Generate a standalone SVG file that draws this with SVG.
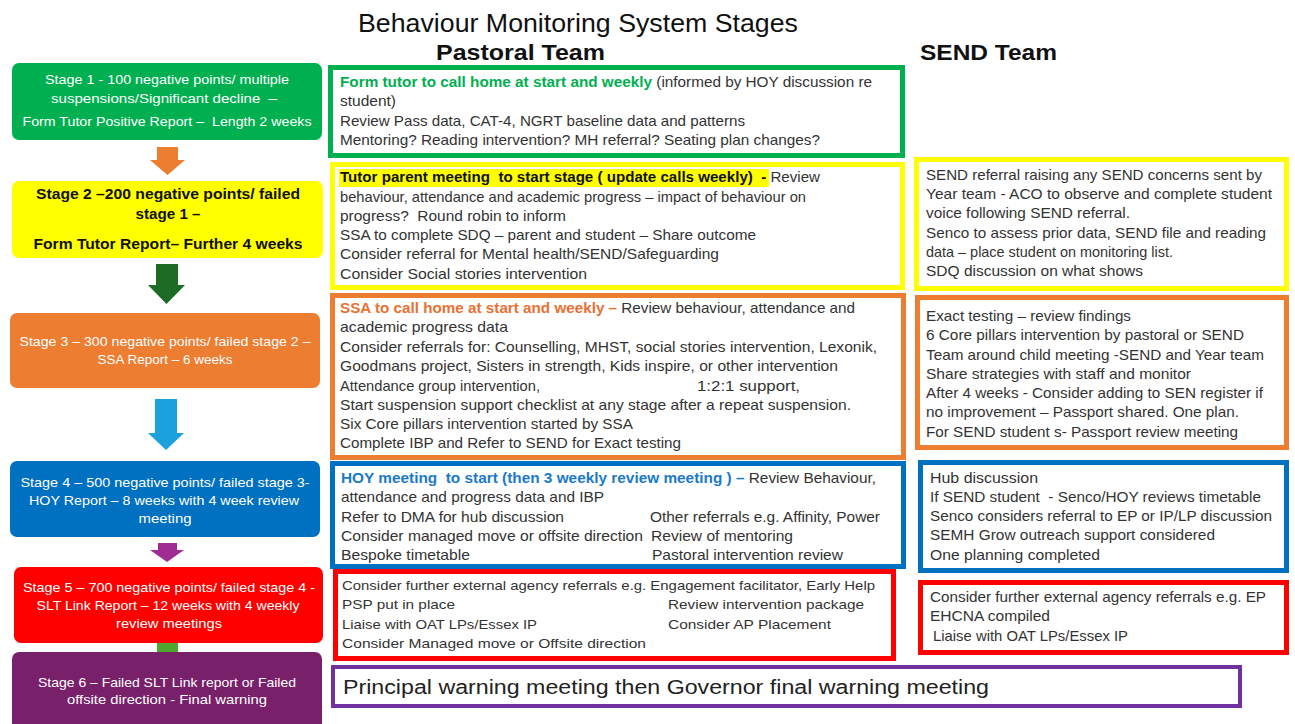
<svg xmlns="http://www.w3.org/2000/svg" width="1295" height="724" viewBox="0 0 1295 724">
<style>
  text { font-family: "Liberation Sans", Arial, sans-serif; white-space: pre; }
  .title { font-size: 25px; fill: #111; }
  .head { font-size: 22px; font-weight: bold; fill: #111; }
  .st { font-size: 13px; fill: #fff; text-anchor: middle; }
  .st2 { font-size: 15px; fill: #111; text-anchor: middle; font-weight: bold; }
  .b { font-size: 14.5px; fill: #333; }
  .s { font-size: 13.5px; fill: #333; }
  .big { font-size: 20px; fill: #222; }
  .bx { fill: #fff; stroke-width: 5; }
  .bold { font-weight: bold; }
</style>

<g id="connectors">
  <polygon fill="#ED7D31" points="157,147 178,147 178,160 185,160 167.5,175 150,160 157,160"/>
  <polygon fill="#1E6B25" points="156,264 178,264 178,285 185,285 166.5,304 148,285 156,285"/>
  <polygon fill="#1BA1DB" points="155,399 177,399 177,433 184,433 166,450 148,433 155,433"/>
  <polygon fill="#A02B93" points="158,543 177,543 177,550 184,550 167,562 150,550 158,550"/>
  <polygon fill="#4EA72E" points="157,643 178,643 178,652 185,652 167.5,665 150,652 157,652"/>
</g>

<g id="title">
  <text class="title" x="358" y="32" textLength="440" lengthAdjust="spacingAndGlyphs">Behaviour Monitoring System Stages</text>
  <text class="head" x="436" y="60" textLength="169" lengthAdjust="spacingAndGlyphs">Pastoral Team</text>
  <text class="head" x="920" y="60" textLength="137" lengthAdjust="spacingAndGlyphs">SEND Team</text>
</g>

<g id="stage1">
  <rect x="12" y="63" width="310" height="77" rx="7" fill="#00B050"/>
  <text class="st" x="167" y="84" textLength="244" lengthAdjust="spacingAndGlyphs">Stage 1 - 100 negative points/ multiple</text>
  <text class="st" x="164" y="103" textLength="226" lengthAdjust="spacingAndGlyphs">suspensions/Significant decline  –</text>
  <text class="st" x="167" y="126" textLength="289" lengthAdjust="spacingAndGlyphs">Form Tutor Positive Report –  Length 2 weeks</text>
</g>

<g id="stage2">
  <rect x="12" y="181" width="311" height="77" rx="7" fill="#FFFF00"/>
  <text class="st2" x="168" y="199" textLength="264" lengthAdjust="spacingAndGlyphs">Stage 2 –200 negative points/ failed</text>
  <text class="st2" x="168" y="219" textLength="65" lengthAdjust="spacingAndGlyphs">stage 1 –</text>
  <text class="st2" x="168" y="249" textLength="269" lengthAdjust="spacingAndGlyphs">Form Tutor Report– Further 4 weeks</text>
</g>

<g id="stage3">
  <rect x="10" y="313" width="310" height="75" rx="7" fill="#ED7D31"/>
  <text class="st" x="165" y="346" textLength="291" lengthAdjust="spacingAndGlyphs">Stage 3 – 300 negative points/ failed stage 2 –</text>
  <text class="st" x="165" y="364" textLength="135" lengthAdjust="spacingAndGlyphs">SSA Report – 6 weeks</text>
</g>

<g id="stage4">
  <rect x="10" y="461" width="310" height="76" rx="7" fill="#0070C0"/>
  <text class="st" x="165" y="487" textLength="289" lengthAdjust="spacingAndGlyphs">Stage 4 – 500 negative points/ failed stage 3-</text>
  <text class="st" x="164" y="505" textLength="270" lengthAdjust="spacingAndGlyphs">HOY Report – 8 weeks with 4 week review</text>
  <text class="st" x="165" y="523" textLength="53" lengthAdjust="spacingAndGlyphs">meeting</text>
</g>

<g id="stage5">
  <rect x="14" y="567" width="309" height="76" rx="7" fill="#FF0000"/>
  <text class="st" x="169" y="592" textLength="292" lengthAdjust="spacingAndGlyphs">Stage 5 – 700 negative points/ failed stage 4 -</text>
  <text class="st" x="168" y="610" textLength="263" lengthAdjust="spacingAndGlyphs">SLT Link Report – 12 weeks with 4 weekly</text>
  <text class="st" x="169" y="628" textLength="106" lengthAdjust="spacingAndGlyphs">review meetings</text>
</g>

<g id="stage6">
  <rect x="12" y="652" width="310" height="80" rx="7" fill="#782069"/>
  <text class="st" x="167" y="687" textLength="258" lengthAdjust="spacingAndGlyphs">Stage 6 – Failed SLT Link report or Failed</text>
  <text class="st" x="167" y="704" textLength="200" lengthAdjust="spacingAndGlyphs">offsite direction - Final warning</text>
</g>

<g id="pastoral1">
  <rect class="bx" x="330.5" y="67.5" width="572" height="88" stroke="#00B050"/>
  <text class="b" x="340" y="87" textLength="532" lengthAdjust="spacingAndGlyphs"><tspan class="bold" fill="#00B050">Form tutor to call home at start and weekly</tspan> (informed by HOY discussion re</text>
  <text class="b" x="340" y="106" textLength="56" lengthAdjust="spacingAndGlyphs">student)</text>
  <text class="b" x="340" y="126" textLength="405" lengthAdjust="spacingAndGlyphs">Review Pass data, CAT-4, NGRT baseline data and patterns</text>
  <text class="b" x="340" y="145" textLength="480" lengthAdjust="spacingAndGlyphs">Mentoring? Reading intervention? MH referral? Seating plan changes?</text>
</g>

<g id="pastoral2">
  <rect class="bx" x="332.5" y="164.5" width="570" height="123" stroke="#FFFF00"/>
  <rect x="339" y="169" width="430" height="18" fill="#FFFF00"/>
  <text class="b" x="340" y="182" textLength="480" lengthAdjust="spacingAndGlyphs"><tspan class="bold" fill="#111">Tutor parent meeting  to start stage ( update calls weekly)  - </tspan>Review</text>
  <text class="b" x="340" y="202" textLength="466" lengthAdjust="spacingAndGlyphs">behaviour, attendance and academic progress – impact of behaviour on</text>
  <text class="b" x="340" y="221" textLength="226" lengthAdjust="spacingAndGlyphs">progress?  Round robin to inform</text>
  <text class="b" x="340" y="240" textLength="416" lengthAdjust="spacingAndGlyphs">SSA to complete SDQ – parent and student – Share outcome</text>
  <text class="b" x="340" y="259" textLength="379" lengthAdjust="spacingAndGlyphs">Consider referral for Mental health/SEND/Safeguarding</text>
  <text class="b" x="340" y="279" textLength="247" lengthAdjust="spacingAndGlyphs">Consider Social stories intervention</text>
</g>

<g id="pastoral3">
  <rect class="bx" x="332.5" y="295.5" width="571" height="162" stroke="#ED7D31"/>
  <text class="b" x="340" y="313" textLength="515" lengthAdjust="spacingAndGlyphs"><tspan class="bold" fill="#E97132">SSA to call home at start and weekly – </tspan>Review behaviour, attendance and</text>
  <text class="b" x="340" y="332" textLength="168" lengthAdjust="spacingAndGlyphs">academic progress data</text>
  <text class="b" x="340" y="352" textLength="537" lengthAdjust="spacingAndGlyphs">Consider referrals for: Counselling, MHST, social stories intervention, Lexonik,</text>
  <text class="b" x="340" y="371" textLength="498" lengthAdjust="spacingAndGlyphs">Goodmans project, Sisters in strength, Kids inspire, or other intervention</text>
  <text class="b" x="340" y="391" textLength="200" lengthAdjust="spacingAndGlyphs">Attendance group intervention,</text>
  <text class="b" x="697" y="391" textLength="103" lengthAdjust="spacingAndGlyphs">1:2:1 support,</text>
  <text class="b" x="340" y="410" textLength="511" lengthAdjust="spacingAndGlyphs">Start suspension support checklist at any stage after a repeat suspension.</text>
  <text class="b" x="340" y="429" textLength="293" lengthAdjust="spacingAndGlyphs">Six Core pillars intervention started by SSA</text>
  <text class="b" x="340" y="448" textLength="341" lengthAdjust="spacingAndGlyphs">Complete IBP and Refer to SEND for Exact testing</text>
</g>

<g id="pastoral4">
  <rect class="bx" x="332.5" y="463.5" width="571" height="103" stroke="#0070C0"/>
  <text class="b" x="341" y="483" textLength="535" lengthAdjust="spacingAndGlyphs"><tspan class="bold" fill="#1B7AC8">HOY meeting  to start (then 3 weekly review meeting ) – </tspan>Review Behaviour,</text>
  <text class="b" x="341" y="502" textLength="263" lengthAdjust="spacingAndGlyphs">attendance and progress data and IBP</text>
  <text class="b" x="341" y="522" textLength="223" lengthAdjust="spacingAndGlyphs">Refer to DMA for hub discussion</text>
  <text class="b" x="650" y="522" textLength="230" lengthAdjust="spacingAndGlyphs">Other referrals e.g. Affinity, Power</text>
  <text class="b" x="341" y="541" textLength="302" lengthAdjust="spacingAndGlyphs">Consider managed move or offsite direction</text>
  <text class="b" x="651" y="541" textLength="142" lengthAdjust="spacingAndGlyphs">Review of mentoring</text>
  <text class="b" x="341" y="560" textLength="129" lengthAdjust="spacingAndGlyphs">Bespoke timetable</text>
  <text class="b" x="652" y="560" textLength="191" lengthAdjust="spacingAndGlyphs">Pastoral intervention review</text>
</g>

<g id="pastoral5">
  <rect class="bx" x="335.5" y="571.5" width="558" height="87" stroke="#FF0000"/>
  <text class="s" x="342" y="590" textLength="533" lengthAdjust="spacingAndGlyphs">Consider further external agency referrals e.g. Engagement facilitator, Early Help</text>
  <text class="s" x="342" y="609" textLength="113" lengthAdjust="spacingAndGlyphs">PSP put in place</text>
  <text class="s" x="668" y="609" textLength="196" lengthAdjust="spacingAndGlyphs">Review intervention package</text>
  <text class="s" x="342" y="629" textLength="195" lengthAdjust="spacingAndGlyphs">Liaise with OAT LPs/Essex IP</text>
  <text class="s" x="668" y="629" textLength="163" lengthAdjust="spacingAndGlyphs">Consider AP Placement</text>
  <text class="s" x="342" y="648" textLength="304" lengthAdjust="spacingAndGlyphs">Consider Managed move or Offsite direction</text>
</g>

<g id="stage6-action">
  <rect x="333" y="667" width="907" height="39" fill="#fff" stroke="#7030A0" stroke-width="4"/>
  <text class="big" x="343" y="694" textLength="646" lengthAdjust="spacingAndGlyphs">Principal warning meeting then Governor final warning meeting</text>
</g>

<g id="send2">
  <rect class="bx" x="916.5" y="159.5" width="370" height="129" stroke="#FFFF00"/>
  <text class="b" x="926" y="180" textLength="336" lengthAdjust="spacingAndGlyphs">SEND referral raising any SEND concerns sent by</text>
  <text class="b" x="926" y="199" textLength="346" lengthAdjust="spacingAndGlyphs">Year team - ACO to observe and complete student</text>
  <text class="b" x="926" y="218" textLength="204" lengthAdjust="spacingAndGlyphs">voice following SEND referral.</text>
  <text class="b" x="926" y="238" textLength="340" lengthAdjust="spacingAndGlyphs">Senco to assess prior data, SEND file and reading</text>
  <text class="b" x="926" y="257" textLength="247" lengthAdjust="spacingAndGlyphs">data – place student on monitoring list.</text>
  <text class="b" x="926" y="276" textLength="217" lengthAdjust="spacingAndGlyphs">SDQ discussion on what shows</text>
</g>

<g id="send3">
  <rect class="bx" x="917.5" y="297.5" width="369" height="150" stroke="#ED7D31"/>
  <text class="b" x="926" y="321" textLength="205" lengthAdjust="spacingAndGlyphs">Exact testing – review findings</text>
  <text class="b" x="926" y="340" textLength="318" lengthAdjust="spacingAndGlyphs">6 Core pillars intervention by pastoral or SEND</text>
  <text class="b" x="926" y="360" textLength="338" lengthAdjust="spacingAndGlyphs">Team around child meeting -SEND and Year team</text>
  <text class="b" x="926" y="379" textLength="265" lengthAdjust="spacingAndGlyphs">Share strategies with staff and monitor</text>
  <text class="b" x="926" y="398" textLength="337" lengthAdjust="spacingAndGlyphs">After 4 weeks - Consider adding to SEN register if</text>
  <text class="b" x="926" y="417" textLength="313" lengthAdjust="spacingAndGlyphs">no improvement – Passport shared. One plan.</text>
  <text class="b" x="926" y="437" textLength="312" lengthAdjust="spacingAndGlyphs">For SEND student s- Passport review meeting</text>
</g>

<g id="send4">
  <rect class="bx" x="920.5" y="462.5" width="366" height="108" stroke="#0070C0"/>
  <text class="b" x="930" y="483" textLength="108" lengthAdjust="spacingAndGlyphs">Hub discussion</text>
  <text class="b" x="930" y="502" textLength="331" lengthAdjust="spacingAndGlyphs">If SEND student  - Senco/HOY reviews timetable</text>
  <text class="b" x="930" y="521" textLength="342" lengthAdjust="spacingAndGlyphs">Senco considers referral to EP or IP/LP discussion</text>
  <text class="b" x="930" y="540" textLength="285" lengthAdjust="spacingAndGlyphs">SEMH Grow outreach support considered</text>
  <text class="b" x="930" y="560" textLength="170" lengthAdjust="spacingAndGlyphs">One planning completed</text>
</g>

<g id="send5">
  <rect class="bx" x="920.5" y="582.5" width="366" height="70" stroke="#FF0000"/>
  <text class="b" x="930" y="602" textLength="336" lengthAdjust="spacingAndGlyphs">Consider further external agency referrals e.g. EP</text>
  <text class="b" x="930" y="621" textLength="120" lengthAdjust="spacingAndGlyphs">EHCNA compiled</text>
  <text class="b" x="933" y="641" textLength="195" lengthAdjust="spacingAndGlyphs">Liaise with OAT LPs/Essex IP</text>
</g>
</svg>
